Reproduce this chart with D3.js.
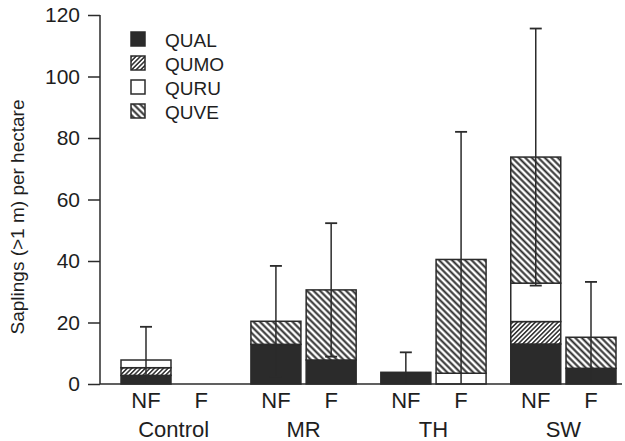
<!DOCTYPE html>
<html><head><meta charset="utf-8">
<script src="https://cdn.jsdelivr.net/npm/d3@7"></script>
<style>body{margin:0;background:#fff}svg{display:block;font-family:"Liberation Sans",Arial,sans-serif}</style>
</head><body><svg id="c" width="625" height="441"></svg>
<script>
const sites = ["Control","MR","TH","SW"];
const treatments = ["NF","F"];
const species = ["QUAL","QUMO","QURU","QUVE"];
const QUAL = [2.8, 0, 12.9, 7.8, 3.8, 0, 13.0, 5.1];
const QUMO = [2.5, 0, 0, 0, 0, 0, 7.3, 0];
const QURU = [2.5, 0, 0, 0, 0, 3.5, 12.5, 0];
const QUVE = [0, 0, 7.5, 22.8, 0, 37.0, 41.0, 10.1];
const errSD = [10.8, 0, 18.0, 21.7, 6.5, 41.5, 41.8, 18.0];
const yTicks = [0,20,40,60,80,100,120];

const rows = [];
sites.forEach((s,i)=>treatments.forEach((t,j)=>{
  const k=i*2+j;
  rows.push({site:s,trt:t,QUAL:QUAL[k],QUMO:QUMO[k],QURU:QURU[k],QUVE:QUVE[k],err:errSD[k]});
}));

const svg = d3.select("#c");
const ink = "#2b2b2b";
const txt = "#1e1e1e";
const defs = svg.append("defs");
function hatch(id, size, sw, angle){
  const p = defs.append("pattern").attr("id",id).attr("patternUnits","userSpaceOnUse")
    .attr("width",size).attr("height",size).attr("patternTransform",`rotate(${angle})`);
  p.append("rect").attr("width",size).attr("height",size).attr("fill","#fff");
  p.append("line").attr("x1",size/2).attr("x2",size/2).attr("y1",0).attr("y2",size)
    .attr("stroke",ink).attr("stroke-width",sw);
}
hatch("qumo",3.2,1.5,45);
hatch("quve",4.6,2,-45);
const fills = {QUAL:ink, QUMO:"url(#qumo)", QURU:"#fff", QUVE:"url(#quve)"};

const y = d3.scaleLinear().domain([0,120]).range([384,15]);
const xg = d3.scaleBand().domain(sites).range([121,616]).paddingInner(0.19).paddingOuter(0);
const xt = d3.scaleBand().domain(treatments).range([0,xg.bandwidth()]).paddingInner(0.095).paddingOuter(0);

const stack = d3.stack().keys(species)(rows);

const g = svg.append("g");
stack.forEach(layer=>{
  g.selectAll(null).data(layer).enter().append("rect")
    .attr("x",d=>xg(d.data.site)+xt(d.data.trt))
    .attr("width",xt.bandwidth())
    .attr("y",d=>y(d[1]))
    .attr("height",d=>y(d[0])-y(d[1]))
    .attr("fill",fills[layer.key])
    .attr("stroke",ink).attr("stroke-width",1.5);
});

// error bars
rows.forEach(d=>{
  if(!d.err) return;
  const tot = d.QUAL+d.QUMO+d.QURU+d.QUVE;
  const cx = xg(d.site)+xt(d.trt)+xt.bandwidth()/2;
  const hi = tot+d.err, lo = Math.max(0, tot-d.err);
  g.append("line").attr("x1",cx).attr("x2",cx).attr("y1",y(lo)).attr("y2",y(hi))
    .attr("stroke",ink).attr("stroke-width",1.5);
  g.append("line").attr("x1",cx-6).attr("x2",cx+6).attr("y1",y(hi)).attr("y2",y(hi))
    .attr("stroke",ink).attr("stroke-width",1.8);
  if(tot-d.err>0){
    g.append("line").attr("x1",cx-6).attr("x2",cx+6).attr("y1",y(lo)).attr("y2",y(lo))
      .attr("stroke",ink).attr("stroke-width",1.8);
  }
});

// y axis
const ya = svg.append("g").attr("transform","translate(100,0)")
  .call(d3.axisLeft(y).tickValues(yTicks).tickSize(12).tickPadding(8).tickFormat(d3.format("d")));
ya.select(".domain").attr("stroke",ink).attr("stroke-width",1.5).attr("d","M0,15V384");
ya.selectAll(".tick line").attr("stroke",ink).attr("stroke-width",1.5);
ya.selectAll(".tick text").attr("font-size",21).attr("fill",txt).attr("font-family","Liberation Sans, Arial, sans-serif");

// x baseline
svg.append("line").attr("x1",100).attr("x2",622).attr("y1",384).attr("y2",384)
  .attr("stroke",ink).attr("stroke-width",1.5);

// x labels
rows.forEach(d=>{
  svg.append("text").attr("x",xg(d.site)+xt(d.trt)+xt.bandwidth()/2).attr("y",408)
    .attr("text-anchor","middle").attr("font-size",22).attr("fill",txt).text(d.trt);
});
sites.forEach(s=>{
  svg.append("text").attr("x",xg(s)+xg.bandwidth()/2).attr("y",437)
    .attr("text-anchor","middle").attr("font-size",22).attr("fill",txt).text(s);
});

// y title
svg.append("text").attr("transform","translate(24,217) rotate(-90)")
  .attr("text-anchor","middle").attr("font-size",19).attr("fill",txt)
  .text("Saplings (>1 m) per hectare");

// legend
const lg = svg.append("g");
species.forEach((s,i)=>{
  lg.append("rect").attr("x",131).attr("y",32+i*24).attr("width",14).attr("height",14)
    .attr("fill",fills[s]).attr("stroke",ink).attr("stroke-width",1.5);
  lg.append("text").attr("x",165).attr("y",47+i*24).attr("font-size",19).attr("fill",txt).text(s);
});
</script></body></html>
